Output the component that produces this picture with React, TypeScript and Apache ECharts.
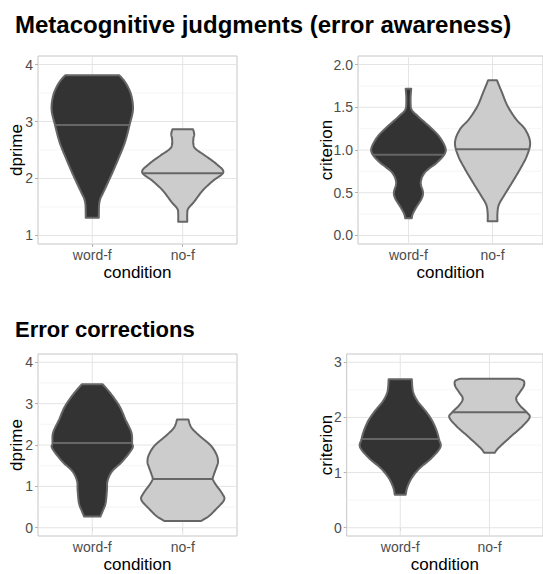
import React, { useEffect, useRef } from "react";
import * as echarts from "echarts";

const conditions = ["word-f", "no-f"];
const conditionPositions = [1, 2];
const titles = ["Metacognitive judgments (error awareness)", "Error corrections"];

// Panel 1: metacognitive judgments, dprime
const p1Ticks = [1, 2, 3, 4];
const p1Minor = [1.5, 2.5, 3.5];
const p1Medians = [2.94, 2.09];
const p1WordF: [number, number][] = [
  [1.31, 0.072], [1.45, 0.073], [1.55, 0.076], [1.65, 0.09], [1.76, 0.123], [2.05, 0.208],
  [2.34, 0.287], [2.63, 0.36], [2.95, 0.414], [3.21, 0.45], [3.45, 0.433], [3.62, 0.39],
  [3.73, 0.345], [3.81, 0.3],
];
const p1NoF: [number, number][] = [
  [1.24, 0.05], [1.38, 0.05], [1.47, 0.06], [1.59, 0.125], [1.79, 0.221], [1.96, 0.335],
  [2.11, 0.449], [2.255, 0.372], [2.4, 0.249], [2.52, 0.142], [2.6, 0.118], [2.7, 0.118],
  [2.78, 0.127], [2.866, 0.114],
];

// Panel 2: metacognitive judgments, criterion
const p2Ticks = [0, 0.5, 1, 1.5, 2];
const p2Minor = [0.25, 0.75, 1.25, 1.75];
const p2Medians = [0.943, 1.01];
const p2WordF: [number, number][] = [
  [0.2, 0.039], [0.25, 0.05], [0.33, 0.093], [0.43, 0.156], [0.505, 0.173], [0.62, 0.146],
  [0.738, 0.196], [0.854, 0.34], [0.951, 0.428], [1.03, 0.438], [1.165, 0.36], [1.28, 0.243],
  [1.4, 0.107], [1.475, 0.037], [1.59, 0.025], [1.717, 0.033],
];
const p2NoF: [number, number][] = [
  [0.166, 0.058], [0.26, 0.058], [0.36, 0.075], [0.465, 0.136], [0.62, 0.233], [0.776, 0.327],
  [0.93, 0.408], [1.087, 0.447], [1.24, 0.389], [1.36, 0.28], [1.514, 0.179], [1.67, 0.113],
  [1.817, 0.052],
];

// Panel 3: error corrections, dprime
const p3Ticks = [0, 1, 2, 3, 4];
const p3Minor = [0.5, 1.5, 2.5, 3.5];
const p3Medians = [2.05, 1.176];
const p3WordF: [number, number][] = [
  [0.27, 0.09], [0.397, 0.114], [0.59, 0.147], [0.9, 0.162], [1.136, 0.169], [1.37, 0.221],
  [1.6, 0.331], [1.914, 0.442], [2.05, 0.44], [2.3, 0.433], [2.614, 0.367], [2.926, 0.304],
  [3.237, 0.206], [3.47, 0.114],
];
const p3NoF: [number, number][] = [
  [0.163, 0.204], [0.28, 0.289], [0.436, 0.362], [0.67, 0.457], [0.826, 0.436], [1.06, 0.36],
  [1.18, 0.333], [1.29, 0.345], [1.49, 0.378], [1.6, 0.39], [1.76, 0.375], [1.99, 0.309],
  [2.226, 0.184], [2.42, 0.096], [2.614, 0.063],
];

// Panel 4: error corrections, criterion
const p4Ticks = [0, 1, 2, 3];
const p4Minor = [0.5, 1.5, 2.5];
const p4Medians = [1.607, 2.093];
const p4WordF: [number, number][] = [
  [0.596, 0.061], [0.73, 0.078], [0.905, 0.13], [1.08, 0.218], [1.256, 0.346], [1.46, 0.45],
  [1.607, 0.434], [1.78, 0.403], [1.96, 0.351], [2.13, 0.277], [2.31, 0.188], [2.48, 0.142],
  [2.69, 0.13],
];
const p4NoF: [number, number][] = [
  [1.36, 0.06], [1.42, 0.085], [1.49, 0.129], [1.667, 0.249], [1.84, 0.369], [2.0, 0.45],
  [2.09, 0.42], [2.22, 0.34], [2.34, 0.299], [2.456, 0.34], [2.57, 0.385], [2.66, 0.385],
  [2.7, 0.33],
];

const FONT = "'Liberation Sans', Arial, Helvetica, sans-serif";
const fills = ["#333333", "#cccccc"];
const outline = "#666666";

const panels = [
  {
    grid: { left: 38, top: 56, width: 199, height: 188 },
    yMin: 0.85, yMax: 4.15, ticks: p1Ticks, minor: p1Minor, yName: "dprime", yNameGap: 13,
    decimals: 0, profiles: [p1WordF, p1NoF], medians: p1Medians,
  },
  {
    grid: { left: 358, top: 56, width: 188.5, height: 188 },
    yMin: -0.1, yMax: 2.1, ticks: p2Ticks, minor: p2Minor, yName: "criterion", yNameGap: 23,
    decimals: 1, profiles: [p2WordF, p2NoF], medians: p2Medians,
  },
  {
    grid: { left: 38, top: 354, width: 199, height: 188 },
    yMin: -0.2, yMax: 4.2, ticks: p3Ticks, minor: p3Minor, yName: "dprime", yNameGap: 13,
    decimals: 0, profiles: [p3WordF, p3NoF], medians: p3Medians,
  },
  {
    grid: { left: 346.7, top: 354, width: 198.7, height: 188 },
    yMin: -0.15, yMax: 3.15, ticks: p4Ticks, minor: p4Minor, yName: "criterion", yNameGap: 11.5,
    decimals: 0, profiles: [p4WordF, p4NoF], medians: p4Medians,
  },
];

function smoothProfile(pts: [number, number][], n = 10): [number, number][] {
  const out: [number, number][] = [];
  const L = pts.length;
  for (let i = 0; i < L - 1; i++) {
    const p0 = pts[Math.max(i - 1, 0)];
    const p1 = pts[i];
    const p2 = pts[i + 1];
    const p3 = pts[Math.min(i + 2, L - 1)];
    for (let k = 0; k < n; k++) {
      const t = k / n;
      const t2 = t * t;
      const t3 = t2 * t;
      const f = (a: number, b: number, c: number, d: number) =>
        0.5 * (2 * b + (-a + c) * t + (2 * a - 5 * b + 4 * c - d) * t2 + (-a + 3 * b - 3 * c + d) * t3);
      out.push([f(p0[0], p1[0], p2[0], p3[0]), Math.max(0, f(p0[1], p1[1], p2[1], p3[1]))]);
    }
  }
  out.push(pts[L - 1]);
  return out;
}

function widthAt(prof: [number, number][], y: number): number {
  for (let i = 0; i < prof.length - 1; i++) {
    const [y0, w0] = prof[i];
    const [y1, w1] = prof[i + 1];
    if ((y >= y0 && y <= y1) || (y <= y0 && y >= y1)) {
      const t = y1 === y0 ? 0 : (y - y0) / (y1 - y0);
      return w0 + (w1 - w0) * t;
    }
  }
  return 0;
}

export default function App() {
  const ref = useRef<HTMLDivElement>(null);
  useEffect(() => {
    if (!ref.current) return;
    const chart = echarts.init(ref.current, undefined, { renderer: "svg" });
    const grids: any[] = [];
    const xAxes: any[] = [];
    const yAxes: any[] = [];
    const series: any[] = [];
    panels.forEach((p, i) => {
      grids.push({ ...p.grid, show: true, borderColor: "#c6c6c6", borderWidth: 1, backgroundColor: "#ffffff", containLabel: false });
      xAxes.push({
        gridIndex: i, type: "value", min: 0.4, max: 2.6,
        axisLine: { show: false },
        axisTick: { show: true, customValues: conditionPositions, length: 3, lineStyle: { color: "#b3b3b3" } },
        axisLabel: {
          customValues: conditionPositions,
          formatter: (v: number) => conditions[Math.round(v) - 1] ?? "",
          color: "#4d4d4d", fontSize: 14, margin: 4, fontFamily: FONT,
        },
        splitLine: { show: false },
        name: "condition", nameLocation: "middle", nameGap: 20, nameMoveOverlap: false,
        nameTextStyle: { fontSize: 17, color: "#000000", fontFamily: FONT },
      });
      yAxes.push({
        gridIndex: i, type: "value", min: p.yMin, max: p.yMax,
        axisLine: { show: false },
        axisTick: { show: true, customValues: p.ticks, length: 3, lineStyle: { color: "#b3b3b3" } },
        axisLabel: {
          customValues: p.ticks,
          formatter: (v: number) => v.toFixed(p.decimals),
          color: "#4d4d4d", fontSize: 14, margin: 5, fontFamily: FONT,
        },
        splitLine: { show: false },
        name: p.yName, nameLocation: "middle", nameGap: p.yNameGap, nameMoveOverlap: false,
        nameTextStyle: { fontSize: 17, color: "#000000", fontFamily: FONT },
      });
      // horizontal grid lines
      series.push({
        type: "custom", coordinateSystem: "cartesian2d", xAxisIndex: i, yAxisIndex: i, z: 1, silent: true,
        data: [...p.ticks.map((v) => [v, 1]), ...p.minor.map((v) => [v, 0])],
        renderItem: (_params: any, api: any) => {
          const v = api.value(0);
          const major = api.value(1) === 1;
          const a = api.coord([0.4, v]);
          const b = api.coord([2.6, v]);
          return {
            type: "line",
            shape: { x1: a[0], y1: a[1], x2: b[0], y2: b[1] },
            style: { stroke: major ? "#e4e4e4" : "#f0f0f0", lineWidth: major ? 1 : 0.7 },
          };
        },
      });
      // vertical grid lines
      series.push({
        type: "custom", coordinateSystem: "cartesian2d", xAxisIndex: i, yAxisIndex: i, z: 1, silent: true,
        data: conditionPositions.map((x) => [x, 0]),
        renderItem: (_params: any, api: any) => {
          const x = api.value(0);
          const a = api.coord([x, p.yMin]);
          const b = api.coord([x, p.yMax]);
          return {
            type: "line",
            shape: { x1: a[0], y1: a[1], x2: b[0], y2: b[1] },
            style: { stroke: "#e4e4e4", lineWidth: 1 },
          };
        },
      });
      // violins
      series.push({
        type: "custom", coordinateSystem: "cartesian2d", xAxisIndex: i, yAxisIndex: i, z: 3, silent: true,
        data: conditionPositions.map((x, k) => [x, p.medians[k]]),
        renderItem: (params: any, api: any) => {
          const k = params.dataIndex;
          const xc = api.value(0);
          const med = api.value(1);
          const prof = smoothProfile(p.profiles[k]);
          const pts: number[][] = [];
          for (const [y, w] of prof) pts.push(api.coord([xc + w, y]));
          for (let j = prof.length - 1; j >= 0; j--) pts.push(api.coord([xc - prof[j][1], prof[j][0]]));
          const mw = widthAt(prof, med);
          const a = api.coord([xc - mw, med]);
          const b = api.coord([xc + mw, med]);
          return {
            type: "group",
            children: [
              {
                type: "polygon",
                shape: { points: pts },
                style: { fill: fills[k], stroke: outline, lineWidth: 2, lineJoin: "round" },
              },
              {
                type: "line",
                shape: { x1: a[0], y1: a[1], x2: b[0], y2: b[1] },
                style: { stroke: outline, lineWidth: 2 },
              },
            ],
          };
        },
      });
    });
    chart.setOption({
      animation: false,
      backgroundColor: "#ffffff",
      title: [
        { text: titles[0], left: 10, top: 7, textStyle: { fontSize: 24, fontWeight: "bold", color: "#000000", fontFamily: FONT } },
        { text: titles[1], left: 10, top: 313, textStyle: { fontSize: 22, fontWeight: "bold", color: "#000000", fontFamily: FONT } },
      ],
      grid: grids,
      xAxis: xAxes,
      yAxis: yAxes,
      series,
    });
    return () => chart.dispose();
  }, []);
  return <div ref={ref} style={{ position: "fixed", left: 0, top: 0, width: 543, height: 574 }} />;
}
